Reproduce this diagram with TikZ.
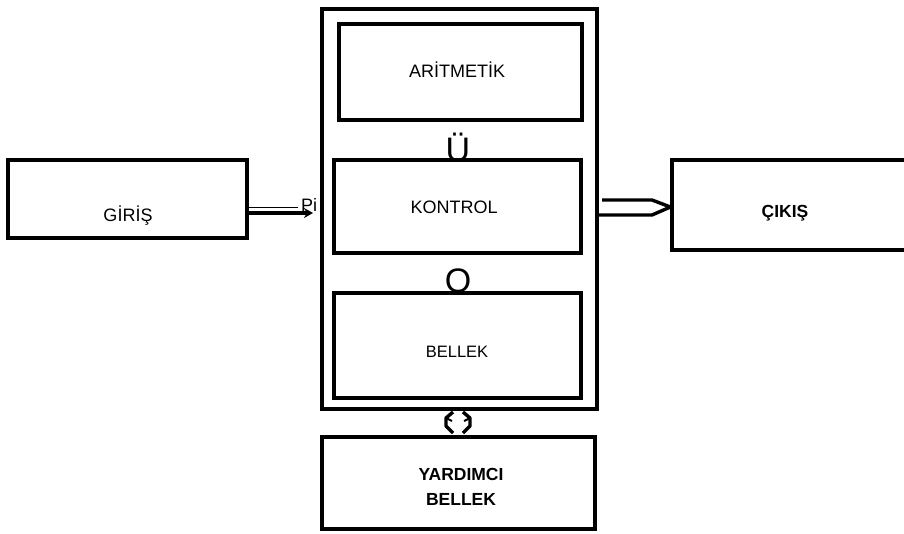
\documentclass[tikz,border=0pt]{standalone}
\usepackage{fontspec}
\setmainfont{Liberation Sans}
\usetikzlibrary{arrows.meta}
\begin{document}
\begin{tikzpicture}[x=1pt,y=-1pt,
  box/.style={draw=black, line width=3.2pt, inner sep=0pt, rectangle},
  lbl/.style={font=\fontsize{18}{20}\selectfont, inner sep=0pt},
  blbl/.style={font=\fontsize{17.5}{25}\selectfont\bfseries, inner sep=0pt, align=center},
  big/.style={font=\fontsize{34}{36}\selectfont, inner sep=0pt},
  conn/.style={line width=3.4pt}]
\useasboundingbox[fill=white] (0,0) rectangle (904,533);
% boxes
\node[box, minimum width=275pt, minimum height=400pt] (outer) at (459.5,209) {};
\node[box, minimum width=243pt, minimum height=96pt] (arit) at (460.5,72) {};
\node[box, minimum width=247pt, minimum height=93pt] (kontrol) at (457.5,206.5) {};
\node[box, minimum width=247pt, minimum height=105pt] (bellek) at (457.5,345.5) {};
\node[box, minimum width=239pt, minimum height=78pt] (giris) at (127.5,199) {};
\node[box, minimum width=250pt, minimum height=90pt] (cikis) at (797,205) {};
\node[box, minimum width=273pt, minimum height=92pt] (yard) at (458.5,483) {};
% labels
\node[lbl] (taritm) at (457,70) {ARİTMETİK};
\node[lbl] (tkont) at (454,207) {KONTROL};
\node[lbl, font=\fontsize{16.5}{19}\selectfont] (tbell) at (457,352) {BELLEK};
\node[lbl] (tgiris) at (128,216) {GİRİŞ};
\node[blbl] (tcikis) at (785,213) {ÇIKIŞ};
\node[blbl] (tyard) at (461,487) {YARDIMCI\\BELLEK};
\node[big] (tu) at (458,147) {Ü};
\node[big] (to) at (458,281) {O};
\node[lbl] (tpi) at (309,205) {Pi};
% input arrow
\coordinate (inA) at (giris.east |- 0,207);
\coordinate (inB) at (298,207);
\coordinate (inC) at (giris.east |- 0,213);
\coordinate (inD) at (313,213);
\draw[line width=1pt] (inA) -- (inB);
\draw[line width=3.6pt, -{Stealth[length=9pt,width=10pt]}] (inC) -- (inD);
% output double arrow
\coordinate (o1) at (602,200);
\coordinate (o2) at (652,200);
\coordinate (o3) at (cikis.west |- 0,207);
\coordinate (o4) at (652,215);
\coordinate (o5) at (598,215);
\draw[conn, line join=round] (o1) -- (o2) -- (o3) -- (o4) -- (o5);
% bottom double arrow
\coordinate (b1) at (453,412);
\coordinate (b2) at (446,418);
\coordinate (b3) at (446,426);
\coordinate (b4) at (453,433);
\coordinate (c1) at (463,412);
\coordinate (c2) at (470,418);
\coordinate (c3) at (470,426);
\coordinate (c4) at (463,433);
\draw[conn, line join=round] (b1) -- (b2) -- (b3) -- (b4);
\draw[conn, line join=round] (c1) -- (c2) -- (c3) -- (c4);
\draw[line width=2pt] (b2) -- ++(6,3);
\draw[line width=2pt] (c2) -- ++(-6,3);
\end{tikzpicture}
\end{document}
